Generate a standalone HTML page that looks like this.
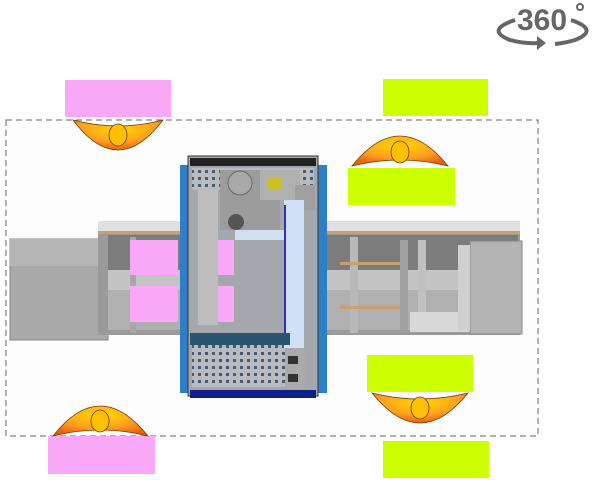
<!DOCTYPE html>
<html><head><meta charset="utf-8"><style>html,body{margin:0;padding:0;background:#fff;}svg{display:block}</style></head>
<body>
<svg width="600" height="480" viewBox="0 0 600 480" xmlns="http://www.w3.org/2000/svg">
<defs>
<radialGradient id="og" cx="0.5" cy="0.3" r="0.7"><stop offset="0" stop-color="#ffd800"/><stop offset="0.6" stop-color="#ffa020"/><stop offset="1" stop-color="#e86010"/></radialGradient>
<pattern id="holes" width="7" height="7" patternUnits="userSpaceOnUse"><rect width="7" height="7" fill="#b8bcc0"/><rect x="2" y="2" width="3" height="3" fill="#4a5a6a"/></pattern>
</defs>
<rect x="6" y="120" width="532" height="316" fill="#fdfdfd" stroke="#666" stroke-dasharray="6,4" stroke-width="1"/>
<rect x="10" y="239" width="98" height="101" fill="#a9a9a9" stroke="#888"/>
<rect x="10" y="239" width="98" height="27" fill="#b5b5b5"/>
<rect x="98" y="221" width="422" height="114" fill="#9a9a9a"/>
<rect x="98" y="221" width="422" height="10" fill="#e0e0e0"/>
<rect x="98" y="231" width="422" height="3" fill="#d0a060"/>
<rect x="108" y="270" width="410" height="20" fill="#c4c4c4"/>
<rect x="108" y="235" width="410" height="35" fill="#7c7c7c"/>
<rect x="108" y="290" width="410" height="40" fill="#b0b0b0"/>
<rect x="350" y="237" width="8" height="96" fill="#b8b8b8"/>
<rect x="400" y="240" width="8" height="92" fill="#a0a0a0"/>
<rect x="418" y="240" width="8" height="72" fill="#c0c0c0"/>
<rect x="130" y="237" width="6" height="96" fill="#a8a8a8"/>
<rect x="340" y="262" width="60" height="3" fill="#c8a070"/>
<rect x="340" y="306" width="60" height="3" fill="#c8a070"/>
<rect x="240" y="262" width="50" height="3" fill="#c8a070"/>
<rect x="240" y="306" width="50" height="3" fill="#c8a070"/>
<rect x="410" y="312" width="60" height="20" fill="#d8d8d8"/>
<rect x="470" y="241" width="52" height="93" fill="#b4b4b4" stroke="#888"/>
<rect x="458" y="245" width="12" height="85" fill="#d0d0d0"/>
<rect x="130" y="240" width="48" height="35" fill="#f9a8f8"/>
<rect x="130" y="286" width="48" height="36" fill="#f9a8f8"/>
<rect x="180" y="165" width="147" height="228" fill="#2f7fc8"/>
<rect x="188" y="156" width="130" height="240" fill="#a4a8ac" stroke="#333"/>
<rect x="190" y="158" width="126" height="8" fill="#222"/>
<rect x="192" y="168" width="122" height="22" fill="url(#holes)"/>
<rect x="192" y="345" width="95" height="42" fill="url(#holes)"/>
<rect x="198" y="190" width="20" height="135" fill="#bdbdbd"/>
<rect x="218" y="240" width="16" height="35" fill="#f9a8f8"/>
<rect x="218" y="286" width="16" height="36" fill="#f9a8f8"/>
<rect x="220" y="170" width="60" height="60" fill="#9c9c9c"/>
<circle cx="240" cy="183" r="12" fill="#a8a8a8" stroke="#666"/>
<circle cx="236" cy="222" r="8" fill="#555"/>
<rect x="260" y="170" width="40" height="30" fill="#b0b0b0"/>
<rect x="268" y="178" width="14" height="12" fill="#c8c020"/>
<rect x="295" y="185" width="20" height="25" fill="#a0a0a0"/>
<rect x="235" y="230" width="50" height="10" fill="#cfe0f0"/>
<rect x="284" y="200" width="20" height="148" fill="#cfe0f7"/>
<rect x="284" y="205" width="2" height="140" fill="#3030c0"/>
<rect x="285" y="348" width="20" height="40" fill="#aaa"/>
<rect x="288" y="356" width="10" height="8" fill="#333"/>
<rect x="288" y="374" width="10" height="8" fill="#333"/>
<rect x="190" y="390" width="126" height="8" fill="#10208a"/>
<rect x="190" y="333" width="100" height="12" fill="#2a5570"/>
<rect x="65" y="80" width="106" height="37" fill="#f9a8f8"/>
<rect x="48" y="436" width="107" height="38" fill="#f9a8f8"/>
<rect x="383" y="79" width="105" height="37" fill="#ccff00"/>
<rect x="348" y="168" width="107" height="37" fill="#ccff00"/>
<rect x="367" y="355" width="106" height="37" fill="#ccff00"/>
<rect x="383" y="441" width="106" height="37" fill="#ccff00"/>
<g stroke="#7a3a00" stroke-width="0.8">
<path d="M73,120 Q118,180 163,120 Q118,132 73,120Z" fill="url(#og)"/>
<ellipse cx="118" cy="135" rx="9" ry="11" fill="#ffc000"/>
<path d="M352,166 Q400,106 448,166 Q400,154 352,166Z" fill="url(#og)"/>
<ellipse cx="400" cy="152" rx="9" ry="11" fill="#ffc000"/>
<path d="M372,393 Q420,453 468,393 Q420,405 372,393Z" fill="url(#og)"/>
<ellipse cx="420" cy="408" rx="9" ry="11" fill="#ffc000"/>
<path d="M53,436 Q100,376 148,436 Q100,424 53,436Z" fill="url(#og)"/>
<ellipse cx="100" cy="421" rx="9" ry="11" fill="#ffc000"/>
</g>
<text x="542" y="30" font-family="Liberation Sans, sans-serif" font-size="30" fill="#666" text-anchor="middle" font-weight="bold">360</text>
<circle cx="580" cy="7" r="3" fill="none" stroke="#666" stroke-width="2"/>
<path d="M515,20 Q485,30 510,40 Q525,44 540,43" fill="none" stroke="#666" stroke-width="4"/>
<path d="M537,36 L546,43 L537,50Z" fill="#666"/>
<path d="M571,20 Q600,30 575,40 Q565,43 555,44" fill="none" stroke="#666" stroke-width="4"/>
</svg>
</body></html>
